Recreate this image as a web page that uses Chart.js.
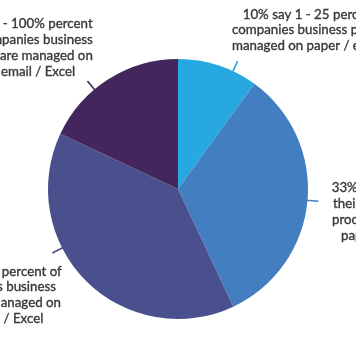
<!DOCTYPE html>
<html>
<head>
<meta charset="utf-8">
<script src="https://cdn.jsdelivr.net/npm/chart.js@4.4.1/dist/chart.umd.min.js"></script>
<style>
  html, body { margin: 0; padding: 0; background: #ffffff; }
  #wrap { width: 356px; height: 364px; position: relative; overflow: hidden; }
</style>
</head>
<body>
<div id="wrap"><canvas id="c" width="356" height="364"></canvas></div>
<script>
// ---- data ----
const categories = ["1 - 25 percent", "26 - 50 percent", "51 - 75 percent", "76 - 100 percent"];
const shares = [10, 33, 39, 18];
const sliceColors = ["#27A8E0", "#427EC0", "#4A4F8E", "#43265B"];
const labelLines = [
  ["10% say 1 - 25 percent of their", "companies business processes are", "managed on paper / email / Excel"],
  ["33% say 26 - 50 percent of", "their companies business", "processes are managed on", "paper / email / Excel"],
  ["39% say 51 - 75 percent of", "their companies business", "processes are managed on", "paper / email / Excel"],
  ["18% say 76 - 100% percent", "of their companies business", "are managed on", "email / Excel"]
];

// ---- label layout: leader angle (deg clockwise from top); per-line anchor [dx, dy, align] from pie centre ----
const labelLayout = [
  { angle: 25,  at: [[64.7, -174, 'left'], [54, -159, 'left'], [54, -143.5, 'left']] },
  { angle: 95,  at: [[153.7, -1, 'left'], [155, 15, 'left'], [154, 31, 'left'], [163, 47, 'left']] },
  { angle: 243, at: [[-116.3, 82.5, 'right'], [-122, 98, 'right'], [-117, 114, 'right'], [-134.7, 130, 'right']] },
  { angle: 320, at: [[-85.3, -165, 'right'], [-85.3, -149, 'right'], [-131.6, -133, 'center'], [-140, -117, 'center']] }
];
const FONT = '13.3px Lato';
const TEXT_COLOR = '#383838';

const calloutPlugin = {
  id: 'callouts',
  afterDraw(chart) {
    const ctx = chart.ctx;
    const meta = chart.getDatasetMeta(0);
    const arc0 = meta.data[0];
    const cx = arc0.x, cy = arc0.y, r = arc0.outerRadius;
    ctx.save();
    labelLayout.forEach((lay, i) => {
      const a = lay.angle * Math.PI / 180;
      const sx = Math.sin(a), sy = -Math.cos(a);
      ctx.strokeStyle = sliceColors[i];
      ctx.lineWidth = 1.6;
      ctx.beginPath();
      ctx.moveTo(cx + sx * (r - 1), cy + sy * (r - 1));
      ctx.lineTo(cx + sx * (r + 11), cy + sy * (r + 11));
      ctx.stroke();
      ctx.fillStyle = TEXT_COLOR;
      ctx.strokeStyle = TEXT_COLOR;
      ctx.lineWidth = 0.35;
      ctx.font = FONT;
      ctx.textBaseline = 'middle';
      labelLines[i].forEach((line, k) => {
        const p = lay.at[k];
        ctx.textAlign = p[2];
        ctx.fillText(line, cx + p[0], cy + p[1]);
        ctx.strokeText(line, cx + p[0], cy + p[1]);
      });
    });
    ctx.restore();
  }
};

new Chart(document.getElementById('c'), {
  type: 'pie',
  data: {
    labels: categories,
    datasets: [{
      data: shares,
      backgroundColor: sliceColors,
      borderWidth: 0
    }]
  },
  options: {
    responsive: false,
    animation: false,
    layout: { padding: { top: 59, bottom: 45, left: 48, right: 48 } },
    plugins: {
      legend: { display: false },
      tooltip: { enabled: false }
    }
  },
  plugins: [calloutPlugin]
});
</script>
</body>
</html>
